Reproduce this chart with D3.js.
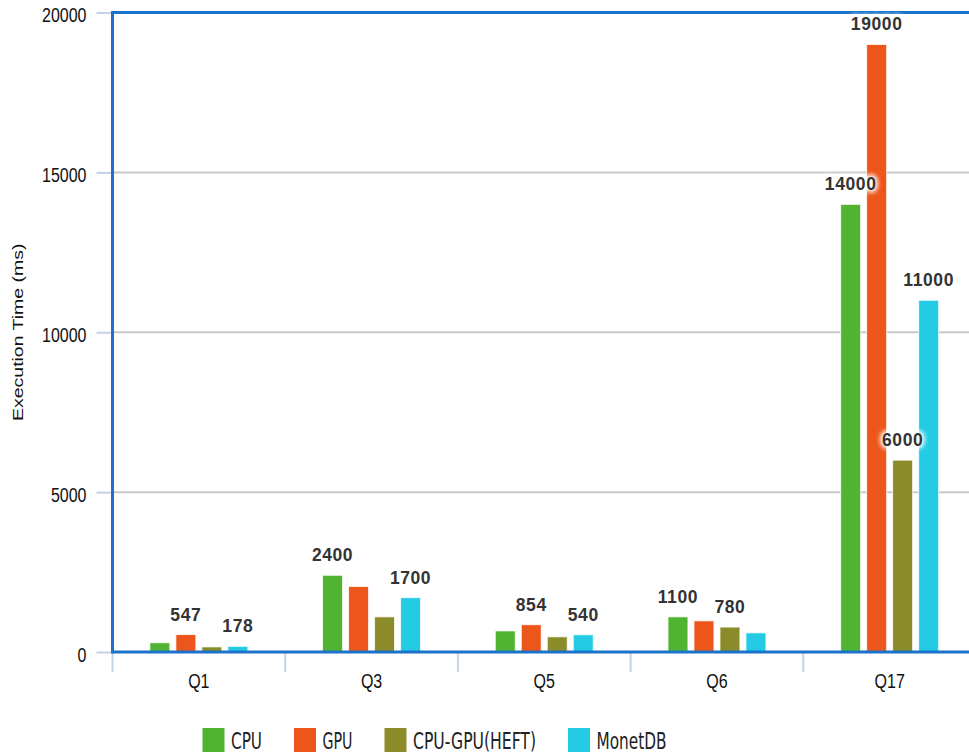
<!DOCTYPE html>
<html>
<head>
<meta charset="utf-8">
<script src="https://cdn.jsdelivr.net/npm/d3@7"></script>
<style>
  html, body { margin: 0; padding: 0; background: #fff; }
  svg { display: block; }
</style>
</head>
<body>
<svg id="chart" width="969" height="755"></svg>
<script>
// Query categories and execution times (ms) per processing strategy
const categories = ["Q1", "Q3", "Q5", "Q6", "Q17"];
const seriesNames = ["CPU", "GPU", "CPU-GPU(HEFT)", "MonetDB"];
const seriesColors = ["#50b432", "#ed561b", "#8b8b2a", "#24cbe5"];
const cpuValues = [290, 2400, 660, 1100, 14000];
const gpuValues = [547, 2050, 854, 975, 19000];
const heftValues = [160, 1100, 475, 780, 6000];
const monetValues = [178, 1700, 540, 600, 11000];
// Which bars carry a value label
const cpuLabeled = [false, true, false, true, true];
const gpuLabeled = [true, false, true, false, true];
const heftLabeled = [false, false, false, true, true];
const monetLabeled = [true, true, true, false, true];
const yTicks = [0, 5000, 10000, 15000, 20000];
const yTitle = "Execution Time (ms)";

const seriesValues = [cpuValues, gpuValues, heftValues, monetValues];
const seriesLabeled = [cpuLabeled, gpuLabeled, heftLabeled, monetLabeled];

const svg = d3.select("#chart");
const plot = { left: 112.5, right: 976, top: 12.5, bottom: 652 };
const stretch = 1.25;          // text is drawn taller than wide
const axisBlue = "#1a72c9";
const tickBlue = "#c3d3e6";

const x = d3.scaleBand().domain(categories).range([plot.left, plot.right]);
const inner = d3.scaleBand().domain(seriesNames).range([-52, 52])
  .paddingInner(6 / 26).paddingOuter(3 / 26);
const y = d3.scaleLinear().domain([0, 20000]).range([plot.bottom, plot.top]);

const defs = svg.append("defs");
defs.append("filter").attr("id", "halo")
  .attr("x", "-30%").attr("y", "-60%").attr("width", "160%").attr("height", "220%")
  .append("feGaussianBlur").attr("stdDeviation", 2.2);

// Horizontal grid lines
svg.append("g").selectAll("line")
  .data(yTicks.filter(t => t > 0 && t < 20000))
  .join("line")
  .attr("x1", plot.left).attr("x2", plot.right)
  .attr("y1", d => y(d)).attr("y2", d => y(d))
  .attr("stroke", "#c8c8c8").attr("stroke-width", 2);

// Y axis with ticks and labels
const yAxis = svg.append("g")
  .attr("transform", `translate(${plot.left},0)`)
  .call(d3.axisLeft(y).tickValues(yTicks).tickSize(16).tickPadding(10).tickFormat(d3.format("d")));
yAxis.select(".domain").remove();
yAxis.selectAll(".tick line").attr("stroke", tickBlue).attr("stroke-width", 2);
yAxis.selectAll(".tick text")
  .attr("font-family", "Liberation Sans, Arial, sans-serif")
  .attr("font-size", 16).attr("fill", "#111")
  .attr("dy", null).attr("y", 7.4)
  .attr("transform", `scale(1,${stretch})`);

// Category separators below the x axis
const sepX = categories.map(c => x(c)).concat([plot.right]);
svg.append("g").selectAll("line").data(sepX).join("line")
  .attr("x1", d => d).attr("x2", d => d)
  .attr("y1", plot.bottom).attr("y2", plot.bottom + 20)
  .attr("stroke", tickBlue).attr("stroke-width", 2);

// X axis category labels
const xAxis = svg.append("g")
  .attr("transform", `translate(0,${plot.bottom})`)
  .call(d3.axisBottom(x).tickSize(0).tickPadding(0));
xAxis.select(".domain").remove();
xAxis.selectAll(".tick text")
  .attr("font-family", "Liberation Sans, Arial, sans-serif")
  .attr("font-size", 16).attr("fill", "#111")
  .attr("dy", null).attr("y", 28.8)
  .attr("transform", `scale(1,${stretch})`);

// Bars
const barData = [];
categories.forEach((c, ci) => {
  seriesNames.forEach((s, si) => {
    barData.push({ cat: c, series: s, si, value: seriesValues[si][ci], labeled: seriesLabeled[si][ci] });
  });
});
svg.append("g").selectAll("rect").data(barData).join("rect")
  .attr("x", d => x(d.cat) + x.bandwidth() / 2 + inner(d.series))
  .attr("width", inner.bandwidth())
  .attr("y", d => y(d.value))
  .attr("height", d => y(0) - y(d.value))
  .attr("fill", d => seriesColors[d.si])
  .attr("stroke", "#fff").attr("stroke-opacity", 0.8).attr("stroke-width", 1);

// Plot frame: left axis, top border, baseline
const frame = svg.append("g").attr("stroke", axisBlue).attr("stroke-width", 3);
frame.append("line").attr("x1", plot.left).attr("x2", plot.left)
  .attr("y1", y(20000) - 1.5).attr("y2", y(0) + 1.5);
frame.append("line").attr("x1", plot.left).attr("x2", plot.right)
  .attr("y1", y(20000)).attr("y2", y(20000));
frame.append("line").attr("x1", plot.left).attr("x2", plot.right)
  .attr("y1", y(0)).attr("y2", y(0));

// Value labels with a soft white halo
const labelData = barData.filter(d => d.labeled);
const labelX = d => x(d.cat) + x.bandwidth() / 2 + inner(d.series) + inner.bandwidth() / 2;
const labels = svg.append("g")
  .attr("font-family", "Liberation Sans, Arial, sans-serif")
  .attr("font-weight", "bold").attr("font-size", 17.5)
  .attr("letter-spacing", 0.6)
  .attr("text-anchor", "middle");
labels.selectAll("text.halo").data(labelData).join("text")
  .attr("class", "halo")
  .attr("x", labelX).attr("y", d => y(d.value) - 14)
  .attr("fill", "#fff").attr("stroke", "#fff").attr("stroke-width", 5)
  .attr("stroke-linejoin", "round")
  .attr("filter", "url(#halo)")
  .text(d => d.value);
labels.selectAll("text.val").data(labelData).join("text")
  .attr("class", "val")
  .attr("x", labelX).attr("y", d => y(d.value) - 14)
  .attr("fill", "#333")
  .text(d => d.value);

// Y axis title
svg.append("text")
  .attr("transform", `translate(23,${(plot.top + plot.bottom) / 2}) rotate(-90) scale(1,0.78)`)
  .attr("text-anchor", "middle")
  .attr("font-family", "Liberation Sans, Arial, sans-serif")
  .attr("font-size", 19.5).attr("fill", "#111")
  .text(yTitle);

// Legend: condensed, tall lettering
const legendTextWidths = [31, 30, 123, 70];
const legend = svg.append("g");
let lx = 202.5;
seriesNames.forEach((name, i) => {
  const item = legend.append("g").attr("transform", `translate(${lx},728)`);
  item.append("rect").attr("width", 22).attr("height", 24).attr("fill", seriesColors[i]);
  item.append("text")
    .attr("x", 28.5).attr("y", 21)
    .attr("font-family", "Liberation Sans Narrow, DejaVu Sans Condensed, Arial Narrow, sans-serif")
    .attr("font-size", 23.5).attr("fill", "#222")
    .attr("textLength", legendTextWidths[i])
    .attr("lengthAdjust", "spacingAndGlyphs")
    .text(name);
  lx += 28.5 + legendTextWidths[i] + 32;
});
</script>
</body>
</html>
